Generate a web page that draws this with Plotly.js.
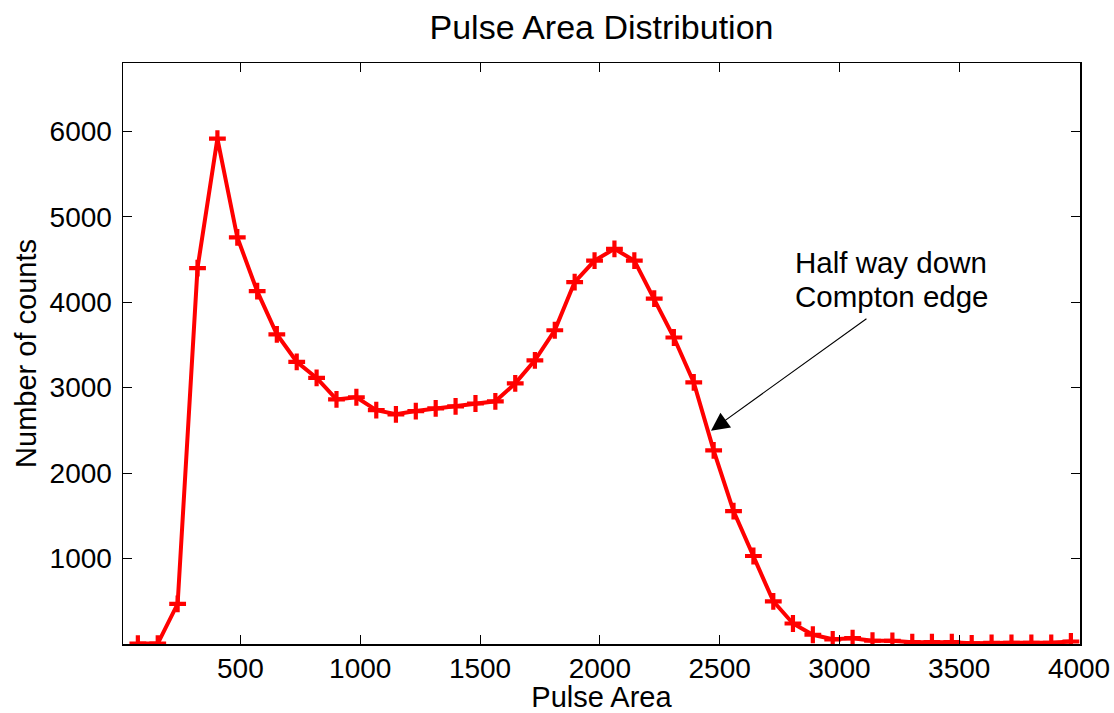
<!DOCTYPE html>
<html>
<head>
<meta charset="utf-8">
<script src="https://cdn.plot.ly/plotly-3.0.1.min.js"></script>
<style>html,body{margin:0;padding:0;background:#fff;}#chart{width:1114px;height:713px;}</style>
</head>
<body>
<div id="chart"></div>
<script>
// Bin centres (Pulse Area)
const pulseArea = [72, 155, 238, 321, 404, 487, 570, 652, 735, 818,
  901, 984, 1067, 1149, 1232, 1315, 1398, 1481, 1564, 1647,
  1729, 1812, 1895, 1978, 2061, 2144, 2227, 2309, 2392, 2475,
  2558, 2641, 2724, 2806, 2889, 2972, 3055, 3138, 3221, 3304,
  3386, 3469, 3552, 3635, 3718, 3801, 3884, 3966];
// Number of counts per bin
const counts = [5, 5, 470, 4400, 5915, 4760, 4130, 3625, 3303, 3114,
  2863, 2888, 2737, 2688, 2726, 2757, 2781, 2815, 2840, 3050,
  3320, 3672, 4236, 4487, 4625, 4487, 4043, 3587, 3062, 2267,
  1555, 1030, 500, 240, 108, 55, 68, 38, 37, 21,
  21, 21, 8, 14, 14, 14, 14, 29];
const xTicks = [500, 1000, 1500, 2000, 2500, 3000, 3500, 4000];
const yTicks = [1000, 2000, 3000, 4000, 5000, 6000];
const titleText = 'Pulse Area Distribution';
const xTitle = 'Pulse Area';
const yTitle = 'Number of counts';
const noteLines = ['Half way down', 'Compton edge'];

const FONT = 'Liberation Sans, Arial, Helvetica, sans-serif';

const trace = {
  x: pulseArea, y: counts, type: 'scatter', mode: 'lines+markers',
  line: {color: '#ff0000', width: 4},
  marker: {symbol: 'cross-thin', size: 12, color: '#ff0000', line: {color: '#ff0000', width: 4.2}},
  hoverinfo: 'skip', showlegend: false
};

const axisCommon = {
  showline: true, linecolor: '#000', linewidth: 1.5, mirror: 'ticks',
  ticks: 'inside', ticklen: 9, tickwidth: 1, tickcolor: '#000',
  showgrid: false, zeroline: false,
  tickfont: {family: FONT, size: 28, color: '#000'},
  tickmode: 'array'
};

const layout = {
  width: 1114, height: 713,
  margin: {l: 123, r: 34, t: 63, b: 69, pad: 0},
  paper_bgcolor: '#fff', plot_bgcolor: '#fff',
  font: {family: FONT, color: '#000'},
  title: {text: titleText, font: {family: FONT, size: 34, color: '#000'},
          xref: 'paper', x: 0.5, xanchor: 'center', yref: 'container', y: 0.962, yanchor: 'middle'},
  xaxis: Object.assign({}, axisCommon, {
    range: [10, 4004], tickvals: xTicks, ticktext: xTicks.map(String),
    ticklabelstandoff: -1,
    title: {text: xTitle, font: {family: FONT, size: 29, color: '#000'}, standoff: 3}
  }),
  yaxis: Object.assign({}, axisCommon, {
    range: [0, 6800], tickvals: yTicks, ticktext: yTicks.map(String),
    ticklabelstandoff: 4,
    title: {text: yTitle, font: {family: FONT, size: 29, color: '#000'}, standoff: 4}
  }),
  annotations: [
    {x: 2464, y: 2497, xref: 'x', yref: 'y', ax: 3119, ay: 3820, axref: 'x', ayref: 'y',
     text: '', showarrow: true, arrowhead: 2, arrowsize: 3.3, arrowwidth: 1.1, arrowcolor: '#000'},
    {x: 2806, y: 4463, xref: 'x', yref: 'y', xanchor: 'left', yanchor: 'middle', showarrow: false,
     text: noteLines[0], font: {family: FONT, size: 29.5, color: '#000'}},
    {x: 2806, y: 4068, xref: 'x', yref: 'y', xanchor: 'left', yanchor: 'middle', showarrow: false,
     text: noteLines[1], font: {family: FONT, size: 29.5, color: '#000'}}
  ]
};

Plotly.newPlot('chart', [trace], layout, {staticPlot: true, displayModeBar: false});
</script>
</body>
</html>
